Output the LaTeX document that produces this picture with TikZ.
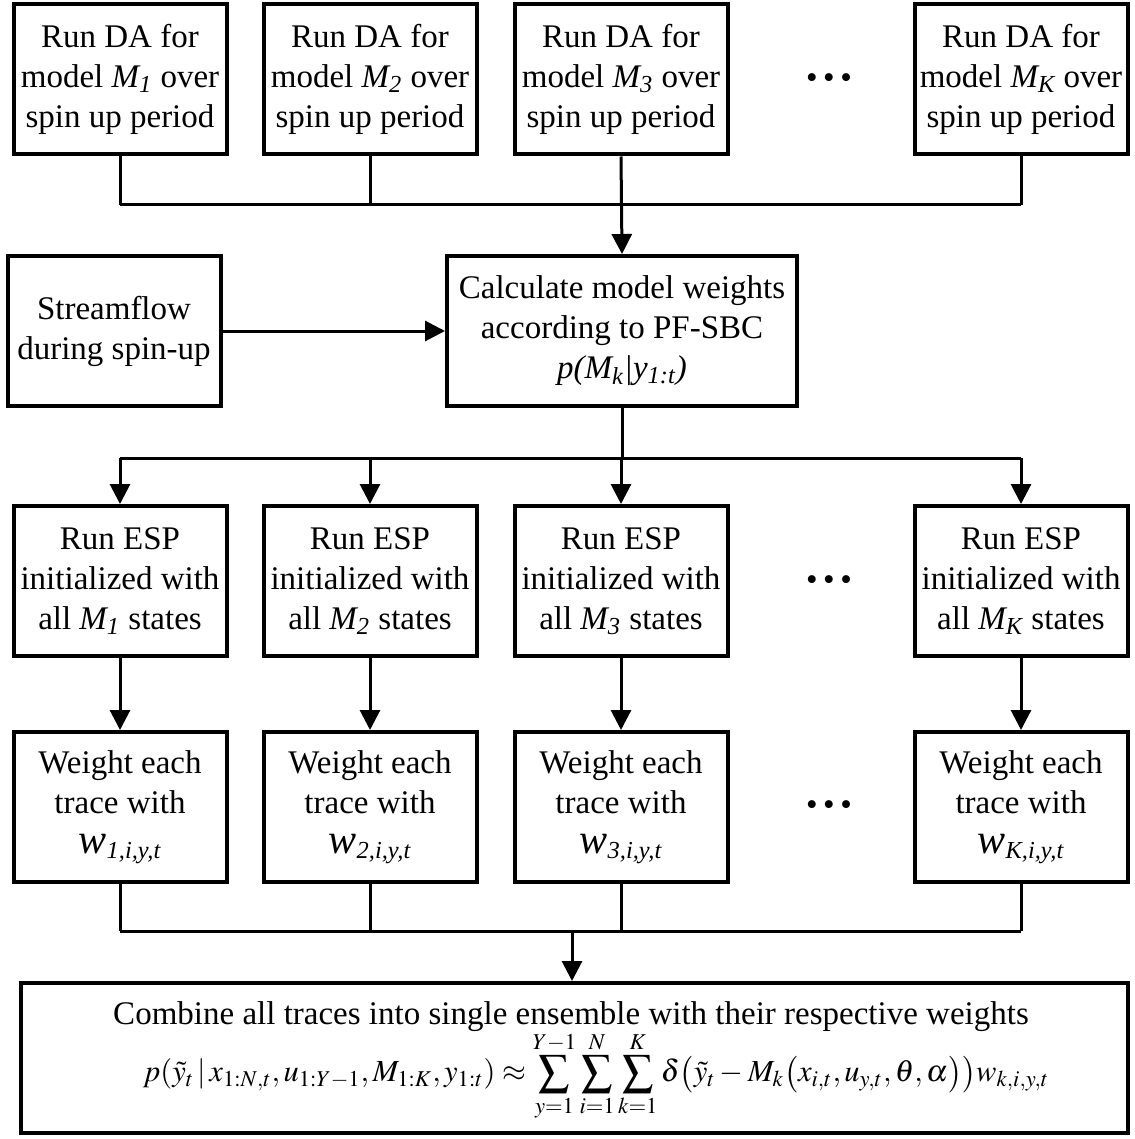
\documentclass[tikz,border=0pt]{standalone}
\usepackage{mathptmx}
\usepackage{fontspec}
\setmainfont{Liberation Serif}
\usetikzlibrary{arrows.meta}
\newcommand{\Mi}[1]{\textit{M\textsubscript{#1}}}
\newcommand{\wt}[1]{\textit{{\fontsize{21}{20}\selectfont w}\textsubscript{#1,i,y,t}}}

\begin{document}
\begin{tikzpicture}[x=0.5pt,y=-0.5pt,>={Triangle[length=10pt,width=10pt]},
  box/.style={draw,line width=2pt,align=center,inner sep=1pt,minimum width=106.5pt,minimum height=75pt,font=\fontsize{16.5}{20}\selectfont},
  txt/.style={inner sep=0pt,font=\fontsize{16.5}{20}\selectfont},
  conn/.style={line width=1.5pt},
  dots/.style={font=\fontsize{16.5}{20}\selectfont}]
\useasboundingbox (0,0) rectangle (1134,1139);
% columns of boxes
\foreach \i/\x/\s in {1/120/1,2/370/2,3/621/3,4/1021/K}{
  \node[box] (da\i) at (\x,79.5) {Run DA for\\model \Mi{\s} over\\spin up period};
  \node[box] (esp\i) at (\x,581) {Run ESP\\initialized with\\all \Mi{\s} states};
  \node[box] (wt\i) at (\x,807) {Weight each\\trace with\\\wt{\s}};
}
\foreach \y in {81,583,808}{\node[dots] at (829,\y) {\textbullet\,\textbullet\,\textbullet};}
\node[box] (flow) at (114,331) {Streamflow\\during spin-up};
\node[box,minimum width=175pt] (calc) at (622,331) {Calculate model weights\\according to PF-SBC\\\textit{p(M\textsubscript{k}|y\textsubscript{1:t})}};
\node[box,minimum width=553.5pt] (comb) at (574.5,1058) {};
\node[txt] (combt) at (571,1017) {Combine all traces into single ensemble with their respective weights};
\node[txt,font=\fontsize{15.3}{18}\selectfont] (combf) at (596,1076)
  {$\displaystyle p(\tilde{y}_t\,|\,x_{1:N,t},u_{1:Y-1},M_{1:K},y_{1:t})\approx\sum_{y=1}^{Y-1}\sum_{i=1}^{N}\sum_{k=1}^{K}\delta\bigl(\tilde{y}_t-M_k\bigl(x_{i,t},u_{y,t},\theta,\alpha\bigr)\bigr)w_{k,i,y,t}$};
% junctions
\coordinate (j1) at (621,205);
\coordinate (j2) at (622,458);
\coordinate (j3) at (572,931);
\foreach \i in {1,2,4}{\draw[conn] (da\i.south) -- (da\i.south |- j1);}
\draw[conn] (da1.south |- j1) -- (da4.south |- j1);
\draw[conn,->] (da3.south) -- (calc.north);
\draw[conn,->] (flow.east) -- (calc.west);
\draw[conn] (calc.south) -- (j2);
\draw[conn] (esp1.north |- j2) -- (esp4.north |- j2);
\foreach \i in {1,...,4}{
  \draw[conn,->] (esp\i.north |- j2) -- (esp\i.north);
  \draw[conn,->] (esp\i.south) -- (wt\i.north);
  \draw[conn] (wt\i.south) -- (wt\i.south |- j3);
}
\draw[conn] (wt1.south |- j3) -- (wt4.south |- j3);
\draw[conn,->] (j3) -- (comb.north -| j3);
\end{tikzpicture}
\end{document}
